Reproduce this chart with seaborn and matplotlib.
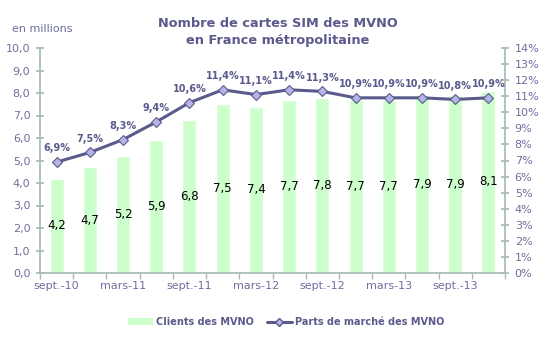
import numpy as np
import pandas as pd
import matplotlib
matplotlib.use("Agg")
import matplotlib.pyplot as plt
import seaborn as sns
from matplotlib.lines import Line2D
from matplotlib.patches import Patch

quarters = ["sept.-10", "déc.-10", "mars-11", "juin-11", "sept.-11", "déc.-11",
            "mars-12", "juin-12", "sept.-12", "déc.-12", "mars-13", "juin-13",
            "sept.-13", "déc.-13"]
clients = [4.2, 4.7, 5.2, 5.9, 6.8, 7.5, 7.4, 7.7, 7.8, 7.7, 7.7, 7.9, 7.9, 8.1]
share = [6.9, 7.5, 8.3, 9.4, 10.6, 11.4, 11.1, 11.4, 11.3, 10.9, 10.9, 10.9, 10.8, 10.9]
left_ticks = [0, 1, 2, 3, 4, 5, 6, 7, 8, 9, 10]
right_ticks = list(range(0, 15))

BAR = "#CCFFCC"
LINE = "#5A5A8C"
MARK = "#B4B4E6"
TXT = "#6E6EA0"
AXC = "#A8BABA"

sns.set_theme(style="white")
plt.rcParams["font.family"] = ["DejaVu Sans"]

df = pd.DataFrame({"trimestre": quarters, "clients": clients, "part": share})
df["pos"] = np.arange(len(df))

fig = plt.figure(figsize=(5.51, 3.37), dpi=100)
ax = fig.add_axes([40 / 551, 1 - 273 / 337, 465 / 551, 225 / 337])

sns.barplot(data=df, x="trimestre", y="clients", color=BAR, width=0.42,
            saturation=1, ax=ax)
ax.set_ylim(0, 10)
ax.set_xlim(-0.5, len(df) - 0.5)
ax.set_yticks(left_ticks)
ax.set_yticklabels([f"{v:.1f}".replace(".", ",") for v in left_ticks])
ax.set_xlabel("")
ax.set_ylabel("")

# value labels in the middle of each bar
for p, v in zip(ax.patches, clients):
    ax.text(p.get_x() + p.get_width() / 2, v / 2, f"{v:.1f}".replace(".", ","),
            ha="center", va="center", fontsize=8.5, color="black")

# x axis: labels every other quarter, tick marks at category boundaries
ax.set_xticks(df["pos"][::2])
ax.set_xticklabels(df["trimestre"][::2])
ax.set_xticks(np.arange(-0.5, len(df), 1), minor=True)
ax.tick_params(axis="x", which="major", length=0, pad=6, labelsize=8, labelcolor=TXT)
ax.tick_params(axis="x", which="minor", length=4, color=AXC, direction="out", bottom=True)
ax.tick_params(axis="y", length=6, direction="inout", color=AXC, labelsize=8,
               labelcolor=TXT, left=True, pad=4)

for s in ["top", "right"]:
    ax.spines[s].set_visible(False)
ax.spines["left"].set_color(AXC)
ax.spines["bottom"].set_color(AXC)

ax2 = ax.twinx()
sns.lineplot(data=df, x="pos", y="part", color=LINE, linewidth=2.2, marker="D",
             markersize=5.5, markerfacecolor=MARK, markeredgecolor=LINE,
             markeredgewidth=0.8, ax=ax2)
ax2.set_ylim(0, 14)
ax2.set_yticks(right_ticks)
ax2.set_yticklabels([f"{v}%" for v in right_ticks])
ax2.set_xlim(-0.5, len(df) - 0.5)
ax2.set_ylabel("")
ax2.set_xlabel("")
ax2.tick_params(axis="y", length=6, direction="inout", color=AXC, labelsize=8,
                labelcolor=TXT, right=True, pad=4)
for s in ["top", "left", "bottom"]:
    ax2.spines[s].set_visible(False)
ax2.spines["right"].set_color(AXC)

for x, v in zip(df["pos"], share):
    ax2.text(x, v + 0.55, f"{v:.1f}%".replace(".", ","), ha="center", va="bottom",
             fontsize=7, fontweight="bold", color=LINE)

fig.text(278 / 551, 1 - 32 / 337, "Nombre de cartes SIM des MVNO\nen France métropolitaine",
         ha="center", va="center", fontsize=9.3, fontweight="bold", color=LINE,
         linespacing=1.35)
fig.text(12 / 551, 1 - 29 / 337, "en millions", ha="left", va="center",
         fontsize=8, color=TXT)

handles = [Patch(facecolor=BAR, edgecolor="none"),
           Line2D([], [], color=LINE, linewidth=2.2, marker="D", markersize=4,
                  markerfacecolor=MARK, markeredgecolor=LINE)]
fig.legend(handles, ["Clients des MVNO", "Parts de marché des MVNO"],
           loc="center", bbox_to_anchor=(286 / 551, 1 - 322 / 337), ncol=2,
           frameon=False, prop={"weight": "bold", "size": 7},
           handlelength=2.6, handleheight=0.7, handletextpad=0.3,
           columnspacing=1.3, labelcolor=LINE)

fig.savefig("out.png", dpi=100)
